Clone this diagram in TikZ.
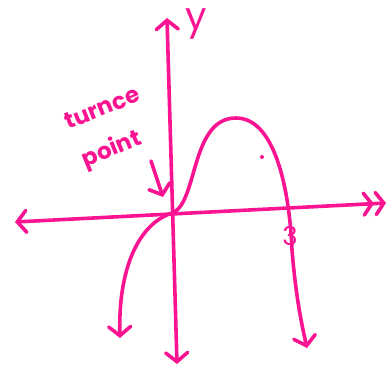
\documentclass[tikz,border=0pt]{standalone}
\usepackage{fontspec}
\setmainfont{Poppins}
\usetikzlibrary{positioning, arrows.meta}
\definecolor{sketchpink}{RGB}{250, 20, 145}

\begin{document}
\begin{tikzpicture}[
        x=1pt, y=-1pt,
        ink/.style={
            draw=sketchpink, line width=3.6pt,
            line cap=round, line join=round
        },
        barb/.style={-{Straight Barb[length=9pt, width=22pt, line cap=round]}},
        bbarb/.style={{Straight Barb[length=9pt, width=22pt, line cap=round]}-{Straight Barb[length=9pt, width=22pt, line cap=round]}},
        dbarb/.style={{Straight Barb[length=9pt, width=22pt, line cap=round]}-{Straight Barb[length=8pt, width=22pt, line cap=round]
                         Straight Barb[length=8pt, width=22pt, line cap=round]}},
        hand/.style={text=sketchpink, font=\bfseries, inner sep=0pt}
    ]

    \useasboundingbox (0,0) rectangle (391,367);

    % axes
    \coordinate (xl) at (15,222);
    \coordinate (xr) at (386,203);
    \coordinate (yb) at (177,364);
    \coordinate (yt) at (167,18);

    \draw[ink, bbarb] (yb) -- (yt);
    \draw[ink, dbarb] (xl) -- (xr);

    \node[hand, font=\fontsize{38}{38}\selectfont] (ylbl) at (196,24) {y};

    % curve
    \coordinate (cstart) at (120,338);
    \coordinate (cend) at (307,348);
    \draw[ink, bbarb] (cstart)
        .. controls (118,270) and (138,224) .. (172,213)
        .. controls (198,204) and (190,118) .. (236,118)
        .. controls (278,118) and (290,200) .. (292,250)
        .. controls (296,300) and (303,330) .. (cend);

    \fill[sketchpink] (262,157) circle (2pt);

    \node[hand, font=\fontsize{26}{26}\selectfont] (three) at (290,236) {3};

    % label
    \node[hand, rotate=22, font=\bfseries\fontsize{23}{23}\selectfont] (turn) at (102,108) {turnce};
    \node[hand, rotate=22, font=\bfseries\fontsize{23}{23}\selectfont] (pnt) at (112,150) {point};
    \coordinate (tp) at (163,197);
    \draw[ink, barb] (151,161) -- (tp);

\end{tikzpicture}
\end{document}
